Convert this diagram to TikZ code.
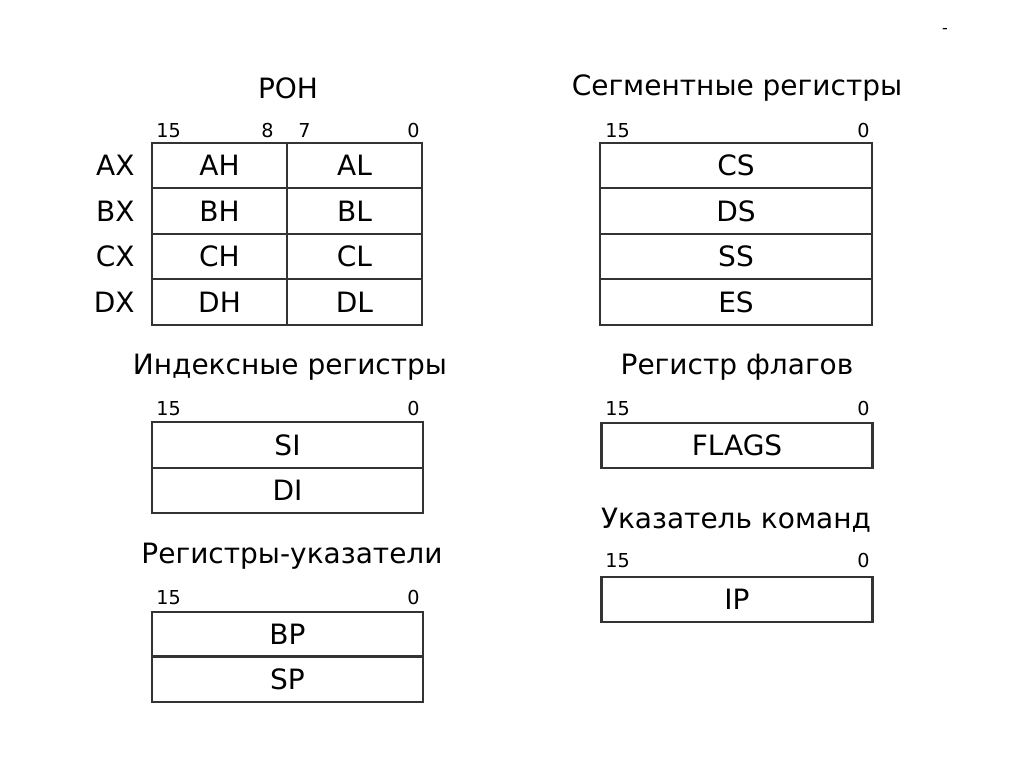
\documentclass[tikz,border=0pt]{standalone}
\usepackage{fontspec}
\setmainfont{DejaVu Sans}
\usetikzlibrary{positioning}

\begin{document}
\begin{tikzpicture}[x=0.5pt,y=-0.5pt]
\tikzset{cell/.style = {shape=rectangle,draw=black!80,line width=1.1pt,minimum height=22.75pt,inner sep=0pt,font=\fontsize{14}{16}\selectfont}}
\tikzset{half/.style = {cell,minimum width=67.5pt}}
\tikzset{full/.style = {cell,minimum width=135.5pt}}
\tikzset{title/.style = {font=\fontsize{14}{16}\selectfont}}
\tikzset{bit/.style = {font=\fontsize{9.6}{11}\selectfont,inner sep=0pt}}
\tikzset{rowname/.style = {font=\fontsize{14}{16}\selectfont,inner sep=0pt}}
\useasboundingbox (0,0) rectangle (1024,767);
\node (dash) at (945,31) {\fontsize{8}{9}\selectfont -};
% general purpose registers
\node[title] (ron) at (288,88) {РОН};
\node[half] (ah) at (219.5,165.5) {AH};
\node[half] (al) at (354.5,165.5) {AL};
\node[half] (bh) at (219.5,211) {BH};
\node[half] (bl) at (354.5,211) {BL};
\node[half] (ch) at (219.5,256.5) {CH};
\node[half] (cl) at (354.5,256.5) {CL};
\node[half] (dh) at (219.5,302) {DH};
\node[half] (dl) at (354.5,302) {DL};
\node[rowname,left=8pt of ah] (ax) {AX};
\node[rowname,left=8pt of bh] (bx) {BX};
\node[rowname,left=8pt of ch] (cx) {CX};
\node[rowname,left=8pt of dh] (dx) {DX};
\node[bit,anchor=base west] (r15) at (156,137) {15};
\node[bit,anchor=base east] (r8) at (274,137) {8};
\node[bit,anchor=base west] (r7) at (298,137) {7};
\node[bit,anchor=base east] (r0) at (420,137) {0};
% segment registers
\node[title] (seg) at (737,88) {Сегментные регистры};
\node[full,minimum width=136pt] (cs) at (736,165.5) {CS};
\node[full,minimum width=136pt] (ds) at (736,211) {DS};
\node[full,minimum width=136pt] (ss) at (736,256.5) {SS};
\node[full,minimum width=136pt] (es) at (736,302) {ES};
\node[bit,anchor=base west] (s15) at (605,137) {15};
\node[bit,anchor=base east] (s0) at (870,137) {0};
% index registers
\node[title] (idx) at (290,367) {Индексные регистры};
\node[full] (si) at (287.5,445) {SI};
\node[full] (di) at (287.5,490.5) {DI};
\node[bit,anchor=base west] (i15) at (156,415) {15};
\node[bit,anchor=base east] (i0) at (420,415) {0};
% pointer registers
\node[title] (ptr) at (292,556) {Регистры-указатели};
\node[full] (bp) at (287.5,634.5) {BP};
\node[full] (sp) at (287.5,679) {SP};
\node[bit,anchor=base west] (p15) at (156,604) {15};
\node[bit,anchor=base east] (p0) at (420,604) {0};
% flags
\node[title] (flg) at (737,367) {Регистр флагов};
\node[full] (flags) at (737,445.5) {FLAGS};
\node[bit,anchor=base west] (f15) at (605,415) {15};
\node[bit,anchor=base east] (f0) at (870,415) {0};
% instruction pointer
\node[title] (cmd) at (736,520) {Указатель команд};
\node[full] (ip) at (737,599.5) {IP};
\node[bit,anchor=base west] (c15) at (605,567) {15};
\node[bit,anchor=base east] (c0) at (870,567) {0};
\end{tikzpicture}
\end{document}
